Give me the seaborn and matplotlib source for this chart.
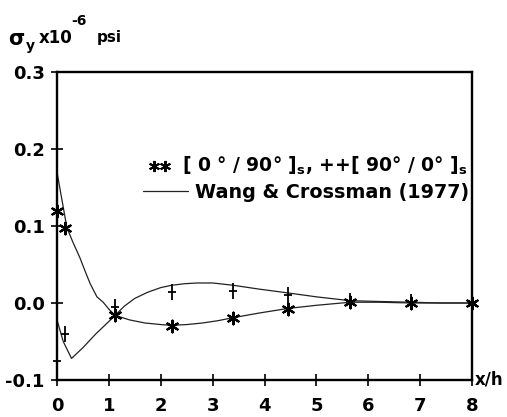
import matplotlib
matplotlib.use("Agg")
import matplotlib.pyplot as plt
from matplotlib.path import Path
import seaborn as sns
import pandas as pd

# Measured stresses: [0/90]s laminate (asterisks) and [90/0]s laminate (pluses)
star_x = [0.0, 0.15, 1.12, 2.21, 3.40, 4.46, 5.65, 6.83, 8.0]
star_y = [0.120, 0.098, -0.016, -0.030, -0.020, -0.008, 0.001, 0.000, 0.000]
plus_x = [0.0, 0.15, 1.12, 2.21, 3.40, 4.46, 5.65, 6.83, 8.0]
plus_y = [-0.075, -0.040, -0.005, 0.014, 0.016, 0.010, 0.003, 0.001, 0.000]

# Wang & Crossman (1977) solutions
wang_a_x = [0.0, 0.19, 0.30, 0.44, 0.55, 0.64, 0.77, 0.89, 1.0, 1.12, 1.4, 1.7,
            2.0, 2.21, 2.5, 2.8, 3.1, 3.4, 3.9, 4.46, 5.0, 5.65, 6.2, 6.83, 7.4, 8.0]
wang_a_y = [0.170, 0.098, 0.080, 0.059, 0.040, 0.025, 0.008, 0.001, -0.008, -0.016,
            -0.022, -0.026, -0.028, -0.029, -0.028, -0.026, -0.023, -0.019, -0.013,
            -0.007, -0.003, 0.001, 0.001, 0.000, 0.000, 0.000]
wang_b_x = [0.0, 0.12, 0.28, 0.50, 0.75, 1.0, 1.12, 1.3, 1.5, 1.75, 2.0, 2.21, 2.45,
            2.7, 3.0, 3.4, 3.9, 4.46, 5.0, 5.65, 6.2, 6.83, 7.4, 8.0]
wang_b_y = [-0.022, -0.050, -0.072, -0.058, -0.040, -0.024, -0.016, -0.004, 0.006,
            0.014, 0.020, 0.023, 0.025, 0.026, 0.026, 0.023, 0.018, 0.013, 0.008,
            0.003, 0.002, 0.001, 0.000, 0.000]

x_ticks = [0, 1, 2, 3, 4, 5, 6, 7, 8]
y_ticks = [-0.1, 0.0, 0.1, 0.2, 0.3]
y_tick_labels = ["-0.1", "0.0", "0.1", "0.2", "0.3"]

sns.set_style("ticks")
plt.rcParams["font.family"] = ["DejaVu Sans"]
plt.rcParams["font.weight"] = "bold"
plt.rcParams["text.color"] = "black"
plt.rcParams["xtick.color"] = "black"
plt.rcParams["ytick.color"] = "black"
plt.rcParams["mathtext.fontset"] = "custom"
plt.rcParams["mathtext.rm"] = "DejaVu Sans:bold"
plt.rcParams["mathtext.it"] = "DejaVu Sans:bold"
plt.rcParams["mathtext.bf"] = "DejaVu Sans:bold"

W, H = 507, 417
fig = plt.figure(figsize=(W / 100, H / 100), dpi=100)
ax = fig.add_axes([57 / W, 1 - 380 / H, (472 - 57) / W, (380 - 72) / H])

# Six-armed asterisk and a tall cross, as used for the measured points
asterisk = (6, 2, 0)
tall_plus = Path([(-0.55, 0.0), (0.55, 0.0), (0.0, -1.0), (0.0, 1.0)],
                 [Path.MOVETO, Path.LINETO, Path.MOVETO, Path.LINETO])

df_a = pd.DataFrame({"x": wang_a_x, "y": wang_a_y})
df_b = pd.DataFrame({"x": wang_b_x, "y": wang_b_y})
df_s = pd.DataFrame({"x": star_x, "y": star_y})
df_p = pd.DataFrame({"x": plus_x, "y": plus_y})

line_kw = dict(color="#222222", linewidth=0.9, sort=False, ax=ax)
sns.lineplot(data=df_a, x="x", y="y", **line_kw)
sns.lineplot(data=df_b, x="x", y="y", **line_kw)
sns.scatterplot(data=df_s, x="x", y="y", marker=asterisk, s=70,
                color="black", linewidth=1.6, ax=ax, zorder=5, clip_on=False)
sns.scatterplot(data=df_p, x="x", y="y", marker=tall_plus, s=130,
                color="black", edgecolor="black", linewidth=1.3, ax=ax, zorder=5,
                clip_on=False)

ax.set_xlim(0, 8)
ax.set_ylim(-0.1, 0.3)
ax.set_xticks(x_ticks)
ax.set_yticks(y_ticks)
ax.set_yticklabels(y_tick_labels)
ax.set_xlabel("")
ax.set_ylabel("")
for s in ax.spines.values():
    s.set_linewidth(1.7)
    s.set_color("black")
ax.tick_params(direction="inout", length=8, width=1.2, labelsize=13, pad=5,
               colors="black")
ax.tick_params(axis="x", pad=8)
for lab in ax.get_xticklabels() + ax.get_yticklabels():
    lab.set_fontweight("bold")

# Axis captions
fig.text(8 / W, 1 - 45 / H, "σ", fontsize=15, fontweight="bold", ha="left", va="baseline")
fig.text(26 / W, 1 - 50 / H, "y", fontsize=10, fontweight="bold", ha="left", va="baseline")
fig.text(39 / W, 1 - 43 / H, "x10", fontsize=12, fontweight="bold", ha="left", va="baseline")
fig.text(71 / W, 1 - 25 / H, "-6", fontsize=10, fontweight="bold", ha="left", va="baseline")
fig.text(97 / W, 1 - 42 / H, "psi", fontsize=11, fontweight="bold", ha="left", va="baseline")
fig.text(475 / W, 1 - 385 / H, "x/h", fontsize=12, fontweight="bold", ha="left", va="baseline")

# Legend entries
for lx in (154, 165):
    ax.plot([lx / W], [1 - 166 / H], transform=fig.transFigure, marker=asterisk,
            markersize=8, color="black", markeredgewidth=1.4, clip_on=False)
fig.text(467 / W, 1 - 172 / H,
         r"[ 0 ° / 90° ]$_{\mathbf{s}}$, ++[ 90° / 0° ]$_{\mathbf{s}}$",
         fontsize=13.5, fontweight="bold", ha="right", va="baseline")
ax.plot([143 / W, 188 / W], [1 - 191 / H, 1 - 191 / H], transform=fig.transFigure,
        color="#222222", linewidth=0.9, clip_on=False)
fig.text(469 / W, 1 - 198 / H, "Wang & Crossman (1977)",
         fontsize=13.8, fontweight="bold", ha="right", va="baseline")

fig.savefig("out.png", dpi=100)
